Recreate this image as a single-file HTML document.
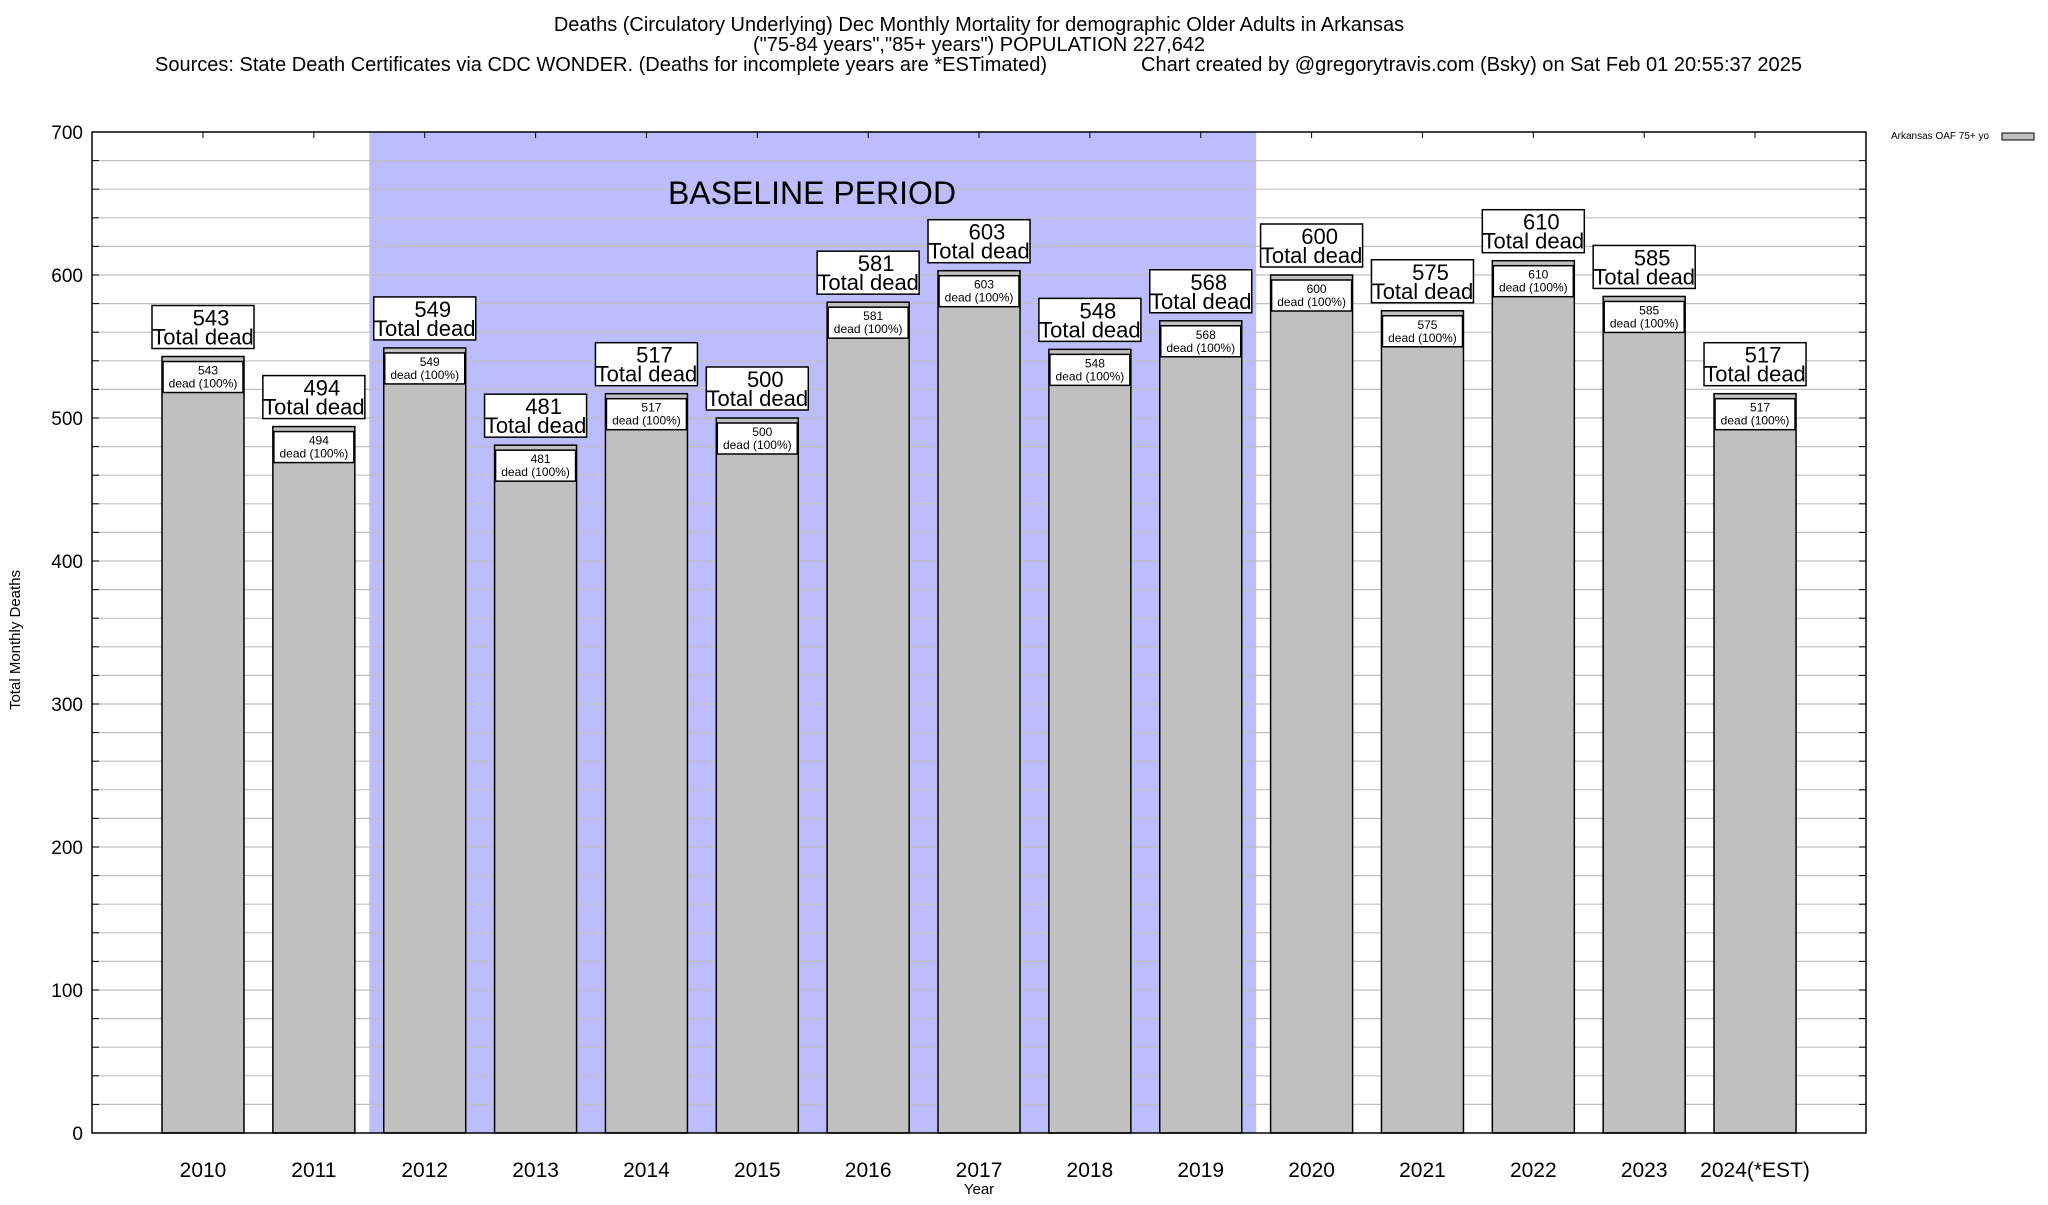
<!DOCTYPE html>
<html><head><meta charset="utf-8"><style>
body{margin:0;background:#fff}
svg text{font-family:"Liberation Sans",sans-serif;fill:#000}
</style></head><body>
<svg id="chart" width="2048" height="1200" viewBox="0 0 2048 1200">
<g font-size="20">
<text x="979" y="31" text-anchor="middle">Deaths (Circulatory Underlying) Dec Monthly Mortality for demographic Older Adults in Arkansas</text>
<text x="979" y="51" text-anchor="middle">("75-84 years","85+ years") POPULATION 227,642</text>
<text x="155" y="71" textLength="892" lengthAdjust="spacingAndGlyphs">Sources: State Death Certificates via CDC WONDER. (Deaths for incomplete years are *ESTimated)</text>
<text x="1141" y="71" textLength="661" lengthAdjust="spacingAndGlyphs">Chart created by @gregorytravis.com (Bsky) on Sat Feb 01 20:55:37 2025</text>
</g>
<g id="grid"></g>
<g id="bars"></g>
<g id="axes"></g>
<text x="20" y="640" font-size="15" text-anchor="middle" transform="rotate(-90 20 640)">Total Monthly Deaths</text>
<text x="979" y="1194" font-size="15" text-anchor="middle">Year</text>
<g>
<text x="1891" y="139" font-size="10">Arkansas OAF 75+ yo</text>
<rect x="2002" y="133" width="32" height="7" fill="#c0c0c0" stroke="#000"/>
</g>
</svg>
<script>
const categories=["2010","2011","2012","2013","2014","2015","2016","2017","2018","2019","2020","2021","2022","2023","2024(*EST)"];
const deaths=[543,494,549,481,517,500,581,603,548,568,600,575,610,585,517];
const yTicks=[0,100,200,300,400,500,600,700];
const baselineStart=2, baselineEnd=9;
const NS="http://www.w3.org/2000/svg";
const L=92,R=1866,T=132,B=1133;
const y=v=>B-(v/700)*(B-T);
const xc=i=>203+i*110.86;
const BW=82;
function mk(p,tag,a,txt){const e=document.createElementNS(NS,tag);for(const k in a)e.setAttribute(k,a[k]);if(txt!=null)e.textContent=txt;p.appendChild(e);return e;}
const grid=document.getElementById('grid'),bars=document.getElementById('bars'),axes=document.getElementById('axes');
const bx0=(xc(baselineStart-1)+xc(baselineStart))/2, bx1=(xc(baselineEnd)+xc(baselineEnd+1))/2;
const sh=mk(grid,'rect',{x:bx0,y:T,width:bx1-bx0,height:B-T,fill:'#bdbdfd'});


for(let v=20;v<700;v+=20){const g=mk(grid,'line',{x1:L,x2:R,y1:y(v),y2:y(v),stroke:'#c0c0c0','stroke-width':1.2});


mk(axes,'line',{x1:L,x2:L+7,y1:y(v),y2:y(v),stroke:'#000'});mk(axes,'line',{x1:R-7,x2:R,y1:y(v),y2:y(v),stroke:'#000'});}
const bt=mk(grid,'text',{x:812,y:204,'font-size':32,'text-anchor':'middle'},'BASELINE PERIOD');


yTicks.forEach(v=>{const t=mk(axes,'text',{x:83,y:y(v)+7,'font-size':19,'text-anchor':'end'},String(v));

});
mk(axes,'rect',{x:L,y:T,width:R-L,height:B-T,fill:'none',stroke:'#000','stroke-width':1.5});
categories.forEach((c,i)=>{
 const cx=xc(i),v=deaths[i],top=y(v);
 mk(axes,'line',{x1:cx,x2:cx,y1:T,y2:T+6,stroke:'#000'});
 const g=mk(bars,'g',{});
 
 
 mk(g,'rect',{x:cx-BW/2,y:top,width:BW,height:B-top,fill:'#c0c0c0',stroke:'#000','stroke-width':1.5});
 mk(g,'rect',{x:cx-BW/2+1,y:top+5,width:BW-2,height:31,fill:'#fff',stroke:'#000','stroke-width':1.5});
 mk(g,'text',{x:cx+5,y:top+18,'font-size':12,'text-anchor':'middle'},String(v));
 mk(g,'text',{x:cx,y:top+31,'font-size':12,'text-anchor':'middle'},'dead (100%)');
 mk(g,'rect',{x:cx-51,y:top-51,width:102,height:43,fill:'#fff',stroke:'#000','stroke-width':1.5});
 mk(g,'text',{x:cx+8,y:top-31,'font-size':22,'text-anchor':'middle'},String(v));
 mk(g,'text',{x:cx,y:top-12,'font-size':22,'text-anchor':'middle'},'Total dead');
 const xl=mk(axes,'text',{x:cx,y:1177,'font-size':21,'text-anchor':'middle'},c);
 
 
});
</script>
</body></html>
